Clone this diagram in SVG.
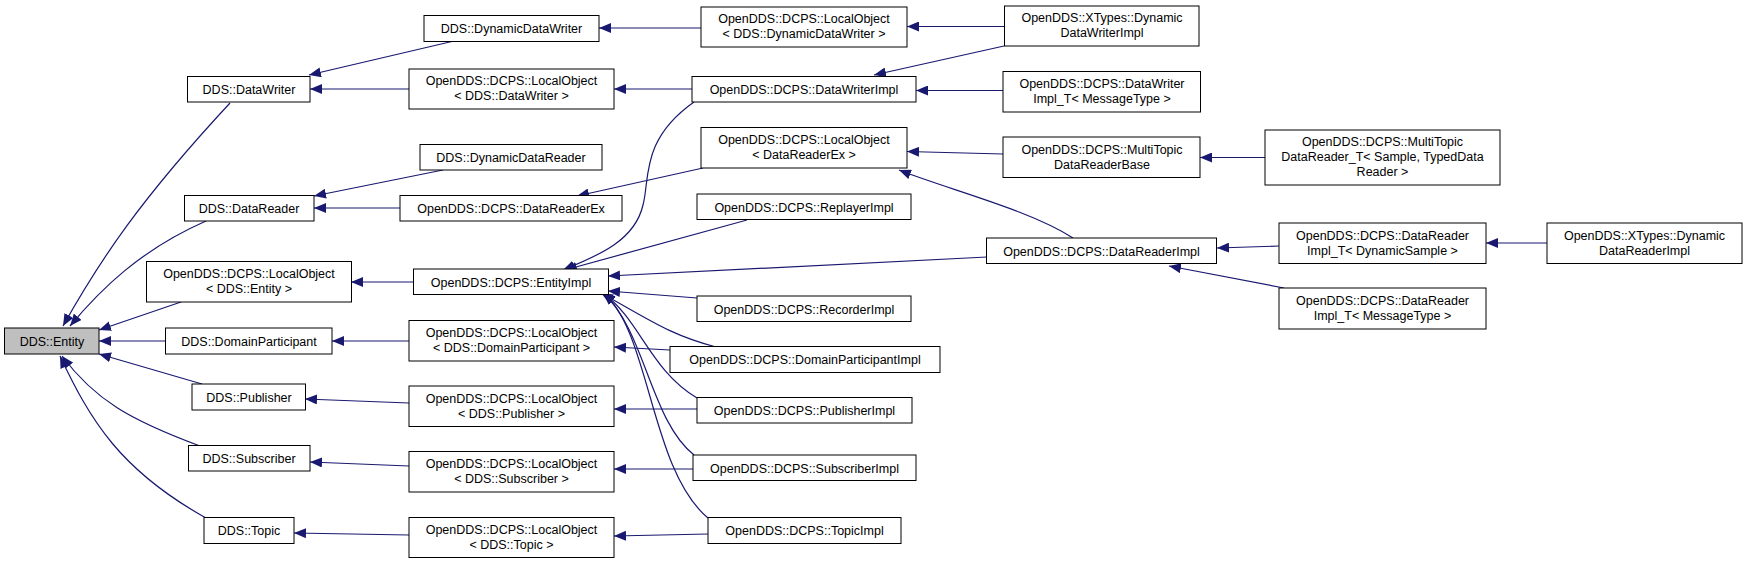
<svg xmlns="http://www.w3.org/2000/svg" width="1748" height="561" viewBox="0 0 1748 561">
<defs>
<marker id="ah" markerUnits="userSpaceOnUse" markerWidth="12" markerHeight="10" viewBox="0 0 12 10" refX="12" refY="5" orient="auto"><path d="M0,0 L12,5 L0,10 z" fill="#191970"/></marker>
<style>
rect{fill:#fff;stroke:#000;stroke-width:1}
text{font-family:"Liberation Sans",Arial,sans-serif;font-size:12.5px;text-anchor:middle;fill:#000}
#edges path{fill:none;stroke:#191970;stroke-width:1.2;marker-end:url(#ah)}
</style>
</defs>
<rect x="0" y="0" width="1748" height="561" style="fill:#fff;stroke:none"/>
<g id="edges">
<path d="M230,103 C140,200 100,260 63,326"/>
<path d="M206,221 C140,250 100,290 70,326"/>
<path d="M181,302 L99,330"/>
<path d="M165,341 L99,341"/>
<path d="M202,384 L99,354"/>
<path d="M200,446 C130,420 95,400 62,356"/>
<path d="M206,518 C120,470 90,420 60,356"/>
<path d="M454,41 L309,75"/>
<path d="M409,89 L310,89"/>
<path d="M443,170 L314,196"/>
<path d="M400,208 L314,208"/>
<path d="M413,282 L351,282"/>
<path d="M409,341 L332,341"/>
<path d="M409,403 L305,399"/>
<path d="M409,466 L310,462"/>
<path d="M409,535 L294,533"/>
<path d="M701,28 L599,28"/>
<path d="M692,89 L614,89"/>
<path d="M703,168 L577,196"/>
<path d="M694,102 C640,140 650,180 643,205 C635,240 600,255 563,270"/>
<path d="M747,220 L565,270"/>
<path d="M987,257 L608,276"/>
<path d="M697,298 L608,291"/>
<path d="M716,347 C670,335 650,320 601,293"/>
<path d="M697,398 C650,370 640,320 603,293"/>
<path d="M694,455 C650,420 645,330 603,293"/>
<path d="M708,518 C650,470 650,330 603,293"/>
<path d="M670,350 L614,347"/>
<path d="M697,409 L614,409"/>
<path d="M693,469 L614,469"/>
<path d="M708,534 L614,536"/>
<path d="M1004,26.5 L907,26.5"/>
<path d="M1004,46 L874,75"/>
<path d="M1003,90.5 L916,90.5"/>
<path d="M1003,154 L907,151.5"/>
<path d="M1073,238 C1030,210 950,190 899,170"/>
<path d="M1265,157.5 L1200,157.5"/>
<path d="M1279,246 L1217,248"/>
<path d="M1547,243 L1486,243"/>
<path d="M1284,288 L1169,266"/>
</g>
<g id="entity"><rect x="4.5" y="328" width="94.5" height="26" style="fill:#bfbfbf"/><text x="52" y="345.5">DDS::Entity</text></g>
<g id="datawriter"><rect x="187.5" y="76.5" width="122.5" height="25.5"/><text x="249" y="94">DDS::DataWriter</text></g>
<g id="dyndatawriter"><rect x="424" y="15.5" width="175" height="26"/><text x="511.5" y="33">DDS::DynamicDataWriter</text></g>
<g id="lo_datawriter"><rect x="409" y="69" width="205" height="40"/><text x="511.5" y="85">OpenDDS::DCPS::LocalObject</text><text x="511.5" y="100">&lt; DDS::DataWriter &gt;</text></g>
<g id="dyndatareader"><rect x="420" y="144.5" width="182" height="25.5"/><text x="511" y="162">DDS::DynamicDataReader</text></g>
<g id="datareader"><rect x="184.5" y="195.5" width="129.5" height="25.5"/><text x="249" y="213">DDS::DataReader</text></g>
<g id="datareaderex"><rect x="400" y="195.5" width="222" height="25.5"/><text x="511" y="213">OpenDDS::DCPS::DataReaderEx</text></g>
<g id="lo_entity"><rect x="146.5" y="261.5" width="205" height="40.5"/><text x="249" y="278">OpenDDS::DCPS::LocalObject</text><text x="249" y="293">&lt; DDS::Entity &gt;</text></g>
<g id="entityimpl"><rect x="413.5" y="269" width="195" height="25.5"/><text x="511" y="286.5">OpenDDS::DCPS::EntityImpl</text></g>
<g id="domainparticipant"><rect x="165.5" y="328" width="166.5" height="26"/><text x="249" y="345.5">DDS::DomainParticipant</text></g>
<g id="lo_dp"><rect x="409" y="320.5" width="205" height="40.5"/><text x="511.5" y="337">OpenDDS::DCPS::LocalObject</text><text x="511.5" y="352">&lt; DDS::DomainParticipant &gt;</text></g>
<g id="publisher"><rect x="192" y="384" width="113.5" height="26"/><text x="249" y="401.5">DDS::Publisher</text></g>
<g id="lo_pub"><rect x="409" y="386" width="205" height="40.5"/><text x="511.5" y="402.5">OpenDDS::DCPS::LocalObject</text><text x="511.5" y="417.5">&lt; DDS::Publisher &gt;</text></g>
<g id="subscriber"><rect x="188.5" y="445.5" width="121.5" height="25.5"/><text x="249" y="463">DDS::Subscriber</text></g>
<g id="lo_sub"><rect x="409" y="451.5" width="205" height="40.5"/><text x="511.5" y="468">OpenDDS::DCPS::LocalObject</text><text x="511.5" y="483">&lt; DDS::Subscriber &gt;</text></g>
<g id="topic"><rect x="204" y="517.5" width="90" height="26"/><text x="249" y="535">DDS::Topic</text></g>
<g id="lo_topic"><rect x="409" y="517.5" width="205" height="40"/><text x="511.5" y="534">OpenDDS::DCPS::LocalObject</text><text x="511.5" y="549">&lt; DDS::Topic &gt;</text></g>
<g id="lo_ddw"><rect x="701" y="7" width="206" height="40"/><text x="804" y="23">OpenDDS::DCPS::LocalObject</text><text x="804" y="38">&lt; DDS::DynamicDataWriter &gt;</text></g>
<g id="datawriterimpl"><rect x="692" y="76.5" width="224" height="25.5"/><text x="804" y="94">OpenDDS::DCPS::DataWriterImpl</text></g>
<g id="lo_dre"><rect x="701" y="127.5" width="206" height="40.5"/><text x="804" y="144">OpenDDS::DCPS::LocalObject</text><text x="804" y="159">&lt; DataReaderEx &gt;</text></g>
<g id="replayerimpl"><rect x="697" y="194" width="214" height="25.5"/><text x="804" y="211.5">OpenDDS::DCPS::ReplayerImpl</text></g>
<g id="recorderimpl"><rect x="697" y="296" width="214" height="25.5"/><text x="804" y="313.5">OpenDDS::DCPS::RecorderImpl</text></g>
<g id="dpimpl"><rect x="670" y="346.5" width="270" height="26"/><text x="805" y="364">OpenDDS::DCPS::DomainParticipantImpl</text></g>
<g id="pubimpl"><rect x="697" y="397.5" width="215" height="25.5"/><text x="804.5" y="415">OpenDDS::DCPS::PublisherImpl</text></g>
<g id="subimpl"><rect x="693" y="455" width="223" height="25.5"/><text x="804.5" y="472.5">OpenDDS::DCPS::SubscriberImpl</text></g>
<g id="topicimpl"><rect x="708" y="517.5" width="193" height="26"/><text x="804.5" y="535">OpenDDS::DCPS::TopicImpl</text></g>
<g id="xt_ddwimpl"><rect x="1004.5" y="6" width="194.5" height="40"/><text x="1102" y="22">OpenDDS::XTypes::Dynamic</text><text x="1102" y="37">DataWriterImpl</text></g>
<g id="dwimpl_t"><rect x="1003" y="71.5" width="197.5" height="40.5"/><text x="1102" y="88">OpenDDS::DCPS::DataWriter</text><text x="1102" y="103">Impl_T&lt; MessageType &gt;</text></g>
<g id="mt_base"><rect x="1003" y="137" width="197" height="40.5"/><text x="1102" y="153.5">OpenDDS::DCPS::MultiTopic</text><text x="1102" y="168.5">DataReaderBase</text></g>
<g id="mt_reader"><rect x="1265" y="130" width="235" height="55"/><text x="1382.5" y="146">OpenDDS::DCPS::MultiTopic</text><text x="1382.5" y="161">DataReader_T&lt; Sample, TypedData</text><text x="1382.5" y="176">Reader &gt;</text></g>
<g id="drimpl"><rect x="986.5" y="238" width="230" height="25.5"/><text x="1101.5" y="255.5">OpenDDS::DCPS::DataReaderImpl</text></g>
<g id="drimpl_dyn"><rect x="1279" y="223" width="207" height="40.5"/><text x="1382.5" y="239.5">OpenDDS::DCPS::DataReader</text><text x="1382.5" y="254.5">Impl_T&lt; DynamicSample &gt;</text></g>
<g id="xt_drimpl"><rect x="1547" y="223" width="195" height="40.5"/><text x="1644.5" y="239.5">OpenDDS::XTypes::Dynamic</text><text x="1644.5" y="254.5">DataReaderImpl</text></g>
<g id="drimpl_msg"><rect x="1279" y="288" width="207" height="41"/><text x="1382.5" y="304.5">OpenDDS::DCPS::DataReader</text><text x="1382.5" y="319.5">Impl_T&lt; MessageType &gt;</text></g>
</svg>
